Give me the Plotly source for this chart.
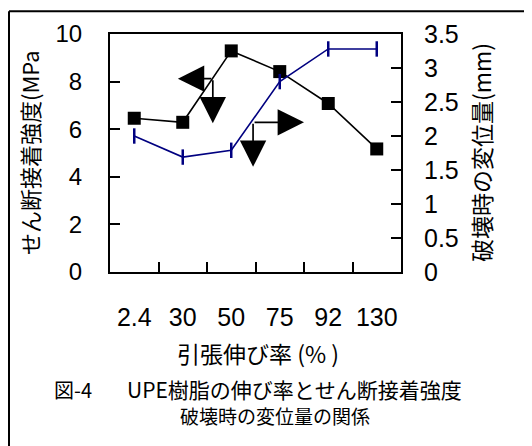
import plotly.graph_objects as go

# ---- data ----
elongation = ["2.4", "30", "50", "75", "92", "130"]          # 引張伸び率 (%)
shear_strength = [6.46, 6.29, 9.29, 8.42, 7.08, 5.17]        # せん断接着強度 (MPa), left axis
displacement = [2.0, 1.69, 1.79, 2.80, 3.28, 3.28]           # 破壊時の変位量 (mm), right axis

left_ticks = [0, 2, 4, 6, 8, 10]
right_ticks = [0, 0.5, 1, 1.5, 2, 2.5, 3, 3.5]
right_tick_text = ["0", "0.5", "1", "1.5", "2", "2.5", "3", "3.5"]

OFF = 8                      # page body margin
W, H = 532 - OFF, 446 - OFF
ML, MT = 110 - OFF, 32 - OFF
PW, PH = 291, 240
MR, MB = W - ML - PW, H - MT - PH


def px(x):   # screen x -> paper
    return (x - OFF - ML) / PW


def py(y):   # screen y -> paper
    return (MT + PH - (y - OFF)) / PH


LAT = "Arial, Liberation Sans, sans-serif"
JP = "Noto Sans CJK JP, sans-serif"
NAVY = "#000080"

fig = go.Figure()
fig.add_trace(go.Scatter(
    x=elongation, y=shear_strength, mode="lines+markers",
    line=dict(color="black", width=1.6),
    marker=dict(symbol="square", size=13, color="black"),
    yaxis="y", showlegend=False))
fig.add_trace(go.Scatter(
    x=elongation, y=displacement, mode="lines+markers",
    line=dict(color=NAVY, width=1.6),
    marker=dict(symbol="line-ns", size=11, color=NAVY, line=dict(color=NAVY, width=2.5)),
    yaxis="y2", showlegend=False))

axis_common = dict(showline=True, linecolor="black", linewidth=2, showgrid=False,
                   zeroline=False, ticks="inside", ticklen=10, tickwidth=1.5,
                   tickcolor="black")

fig.update_layout(
    width=W, height=H,
    margin=dict(l=ML, r=MR, t=MT, b=MB),
    paper_bgcolor="white", plot_bgcolor="white",
    showlegend=False,
    xaxis=dict(type="category", tickson="boundaries", range=[-0.5, 5.5],
               mirror=True, tickangle=0,
               tickfont=dict(family=LAT, size=25, color="black"),
               ticklabelstandoff=22, **axis_common),
    yaxis=dict(range=[0, 10], tickvals=left_ticks, mirror=True,
               tickfont=dict(family=LAT, size=24, color="black"),
               ticklabelstandoff=21, **axis_common),
    yaxis2=dict(range=[0, 3.5], overlaying="y", side="right",
                tickvals=right_ticks, ticktext=right_tick_text,
                tickfont=dict(family=LAT, size=25, color="black"),
                ticklabelstandoff=16, **axis_common),
)

# outer frame (top and left edges visible)
fig.add_shape(type="line", xref="paper", yref="paper",
              x0=px(9), x1=px(W + 40), y0=py(9), y1=py(9),
              line=dict(color="black", width=2))
fig.add_shape(type="line", xref="paper", yref="paper",
              x0=px(9), x1=px(9), y0=py(9), y1=py(H + 40),
              line=dict(color="black", width=2))

# axis titles and caption
texts = [
    dict(text="せん断接着強度(MPa", x=px(29), y=0.5, textangle=-90, size=22, xanchor="center"),
    dict(text="破壊時の変位量(mm)", x=px(481), y=0.5, textangle=-90, size=23, xanchor="center"),
    dict(text="引張伸び率 (% )", x=px(258), y=py(354), textangle=0, size=23, xanchor="center"),
    dict(text="図-4", x=px(52), y=py(390), textangle=0, size=20, xanchor="left"),
    dict(text="UPE樹脂の伸び率とせん断接着強度", x=px(125), y=py(390), textangle=0, size=21, xanchor="left"),
    dict(text="破壊時の変位量の関係", x=px(275), y=py(417), textangle=0, size=19, xanchor="center"),
]
for t in texts:
    fig.add_annotation(text=t["text"], x=t["x"], y=t["y"], xref="paper", yref="paper",
                       xanchor=t["xanchor"], yanchor="middle", textangle=t["textangle"],
                       showarrow=False, font=dict(family=JP, size=t["size"], color="black"))

# indicator arrows: (tail x, tail y, head x, head y)
arrows = [
    (1.62, 8.125, 0.90, 8.125),
    (1.62, 8.125, 1.62, 6.25),
    (2.45, 6.29, 3.50, 6.29),
    (2.45, 6.29, 2.45, 4.42),
]
for ax_, ay_, hx, hy in arrows:
    fig.add_annotation(x=hx, y=hy, ax=ax_, ay=ay_, xref="x", yref="y",
                       axref="x", ayref="y", text="", showarrow=True,
                       arrowhead=2, arrowsize=3.1, arrowwidth=1.7,
                       arrowcolor="black", standoff=0)

fig.write_html("out.html")
